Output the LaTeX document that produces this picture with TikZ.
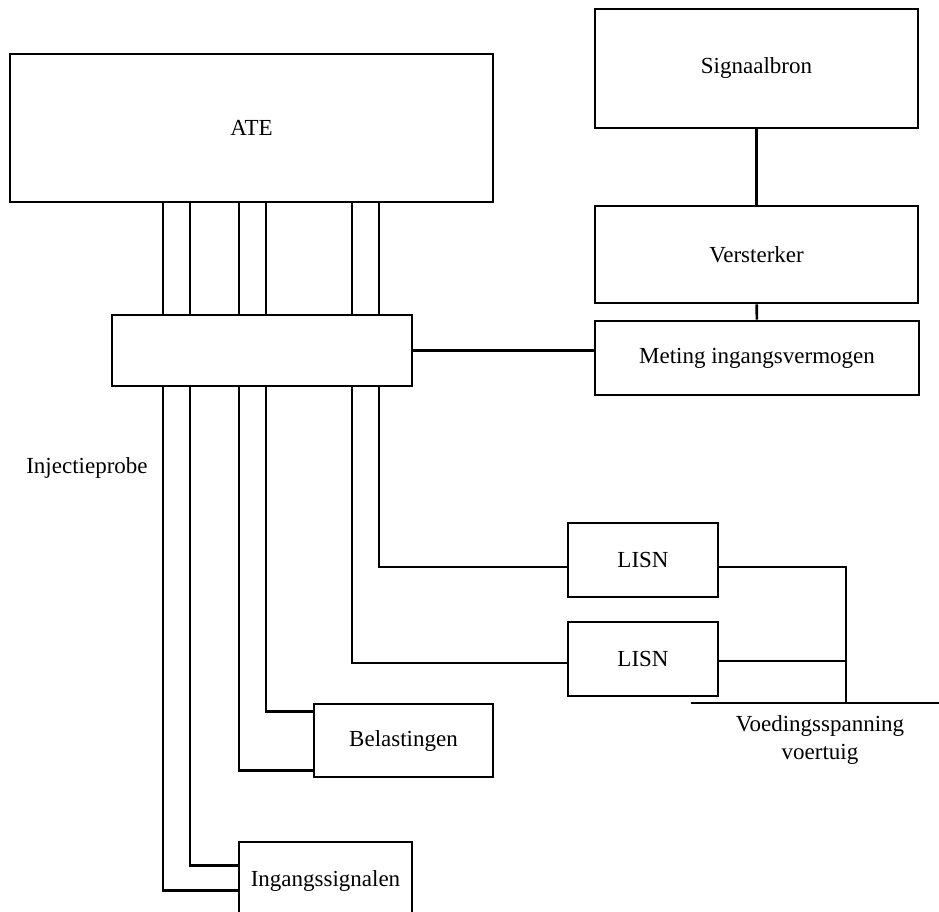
\documentclass[tikz,border=0pt]{standalone}
\usepackage{fontspec}
\setmainfont{Liberation Serif}

\begin{document}
\begin{tikzpicture}[x=1pt, y=-1pt, line width=2.6pt,
        every node/.style={font=\fontsize{23}{28}\selectfont},
        blok/.style={draw, rectangle, inner sep=0pt}]
            \useasboundingbox (0,0) rectangle (939,912);
            \node[blok, minimum width=483, minimum height=148] (ate) at (251.5,128) {ATE};
            \node[blok, minimum width=323, minimum height=119] (bron) at (756.5,68.5) {Signaalbron};
            \node[blok, minimum width=323, minimum height=97] (versterker) at (756.5,254.5) {Versterker};
            \node[blok, minimum width=324, minimum height=74] (meting) at (757,358) {Meting ingangsvermogen};
            \node[blok, minimum width=300, minimum height=71] (probe) at (262,350.5) {};
            \node[blok, minimum width=150, minimum height=74] (lisnA) at (643,560) {LISN};
            \node[blok, minimum width=150, minimum height=74] (lisnB) at (643,659) {LISN};
            \node[blok, minimum width=179, minimum height=73] (belast) at (403.5,740.5) {Belastingen};
            \node[blok, minimum width=173, minimum height=78] (ingang) at (325.5,881) {Ingangssignalen};
            \node (injlabel) at (87,468) {Injectieprobe};
            \node[align=center, inner sep=0pt] (voeding) at (820,740) {Voedingsspanning\\voertuig};
            \coordinate (knoop) at (846,703);
            \coordinate (netL) at (691,703);
            \coordinate (netR) at (939,703);
            % kabelboom door de probe
            \foreach \x in {163,190,239,266,352,379}
                \draw (\x,0 |- ate.south) -- (\x,0 |- probe.north);
            \draw (bron) -- (versterker);
            \draw (versterker) -- (meting);
            \draw (probe.east) -- (meting.west |- probe.east);
            \draw (379,0 |- probe.south) |- ([yshift=-7pt]lisnA.west);
            \draw (352,0 |- probe.south) |- ([yshift=-4pt]lisnB.west);
            \draw (266,0 |- probe.south) |- ([yshift=-9pt]belast.north west);
            \draw (239,0 |- probe.south) |- ([yshift=8pt]belast.south west);
            \draw (190,0 |- probe.south) |- ([yshift=-25pt]ingang.north west);
            \draw (163,0 |- probe.south) |- ([yshift=-50pt]ingang.north west);
            % voeding
            \draw ([yshift=-7pt]lisnA.east) -| (knoop);
            \draw ([yshift=-2pt]lisnB.east) -- ([yshift=-2pt]lisnB.east -| knoop);
            \draw (netL) -- (netR);
        \end{tikzpicture}
\end{document}
